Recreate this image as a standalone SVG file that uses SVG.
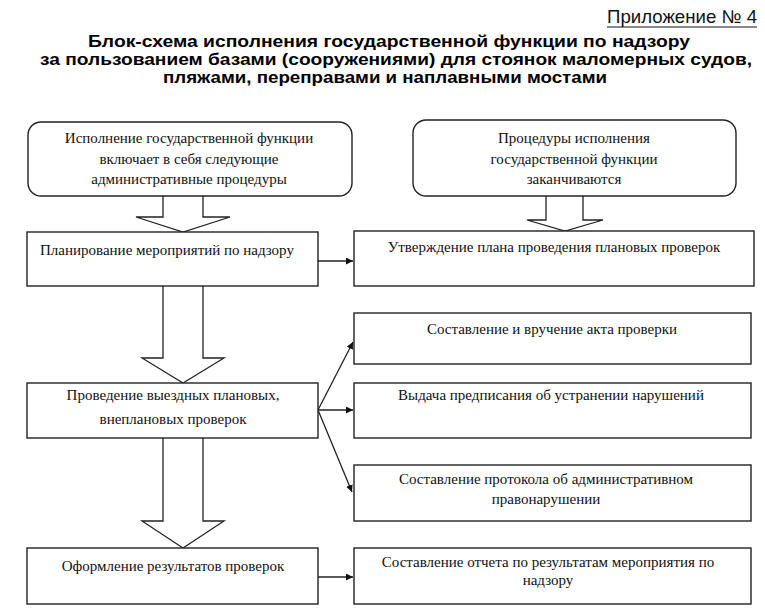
<svg xmlns="http://www.w3.org/2000/svg" width="765" height="612" viewBox="0 0 765 612">
<defs>
<style>
.box{fill:#fff;stroke:#222;stroke-width:1.4}
.t{font-family:"Liberation Serif","Times New Roman",serif;font-size:15px;fill:#111}
.c{text-anchor:middle}
.h{font-family:"Liberation Sans",Arial,sans-serif;font-weight:bold;font-size:17px;fill:#000;text-anchor:middle}
.ln{fill:none;stroke:#222;stroke-width:1.3}
.ba{fill:#fff;stroke:#222;stroke-width:1.3}
</style>
<marker id="ah" viewBox="0 0 10 10" refX="10" refY="5" markerWidth="7" markerHeight="7" orient="auto" markerUnits="userSpaceOnUse">
<path d="M0,0 L10,5 L0,10 z" fill="#111"/>
</marker>
</defs>
<rect width="765" height="612" fill="#fff"/>
<g id="header">
<text x="757" y="23" font-family="'Liberation Sans',Arial,sans-serif" font-size="18.5" text-anchor="end" textLength="150" lengthAdjust="spacingAndGlyphs" fill="#111">Приложение № 4</text>
<line x1="607" y1="27" x2="757" y2="27" stroke="#111" stroke-width="1"/>
<text class="h" x="389" y="47" textLength="602" lengthAdjust="spacingAndGlyphs">Блок-схема исполнения государственной функции по надзору</text>
<text class="h" x="396" y="65" textLength="712" lengthAdjust="spacingAndGlyphs">за пользованием базами (сооружениями) для стоянок маломерных судов,</text>
<text class="h" x="385" y="83" textLength="444" lengthAdjust="spacingAndGlyphs">пляжами, переправами и наплавными мостами</text>
</g>
<g id="connectors">
<path class="ba" d="M163,196 V217 H136 L183,232 L230,217 H203 V196"/>
<path class="ba" d="M546,196 V220 H527 L565,231 L603,220 H583 V196"/>
<path class="ba" d="M163,286 V358 H142 L183,383 L224,358 H203 V286"/>
<path class="ba" d="M163,438 V521 H142 L183,548 L224,521 H203 V438"/>
<line class="ln" x1="318" y1="261" x2="353" y2="261" marker-end="url(#ah)"/>
<line class="ln" x1="318" y1="410" x2="353" y2="342" marker-end="url(#ah)"/>
<line class="ln" x1="318" y1="410" x2="353" y2="410" marker-end="url(#ah)"/>
<line class="ln" x1="318" y1="410" x2="352" y2="492" marker-end="url(#ah)"/>
<line class="ln" x1="318" y1="577" x2="353" y2="577" marker-end="url(#ah)"/>
</g>
<g id="start">
<rect class="box" x="28" y="122" width="324" height="74" rx="13"/>
<text class="t c" x="189" y="143">Исполнение государственной функции</text>
<text class="t c" x="189" y="164">включает в себя следующие</text>
<text class="t c" x="189" y="184">административные процедуры</text>
</g>
<g id="end">
<rect class="box" x="413" y="120" width="323" height="76" rx="13"/>
<text class="t c" x="574" y="143">Процедуры исполнения</text>
<text class="t c" x="574" y="164">государственной функции</text>
<text class="t c" x="574" y="184">заканчиваются</text>
</g>
<g id="plan">
<rect class="box" x="27" y="232" width="291" height="54"/>
<text class="t" x="40" y="255">Планирование мероприятий по надзору</text>
</g>
<g id="approve">
<rect class="box" x="354" y="231" width="400" height="55"/>
<text class="t c" x="554" y="252">Утверждение плана проведения плановых проверок</text>
</g>
<g id="inspect">
<rect class="box" x="27" y="383" width="291" height="55"/>
<text class="t c" x="173" y="400">Проведение выездных плановых,</text>
<text class="t c" x="173" y="424">внеплановых проверок</text>
</g>
<g id="act">
<rect class="box" x="354" y="313" width="397" height="51"/>
<text class="t c" x="552" y="334">Составление и вручение акта проверки</text>
</g>
<g id="order">
<rect class="box" x="354" y="383" width="397" height="55"/>
<text class="t c" x="551" y="400">Выдача предписания об устранении нарушений</text>
</g>
<g id="protocol">
<rect class="box" x="354" y="465" width="397" height="56"/>
<text class="t c" x="546" y="484">Составление протокола об административном</text>
<text class="t c" x="546" y="504">правонарушении</text>
</g>
<g id="results">
<rect class="box" x="27" y="548" width="291" height="56"/>
<text class="t c" x="173" y="571">Оформление результатов проверок</text>
</g>
<g id="report">
<rect class="box" x="354" y="548" width="397" height="56"/>
<text class="t c" x="548" y="567">Составление отчета по результатам мероприятия по</text>
<text class="t c" x="548" y="585">надзору</text>
</g>
</svg>
